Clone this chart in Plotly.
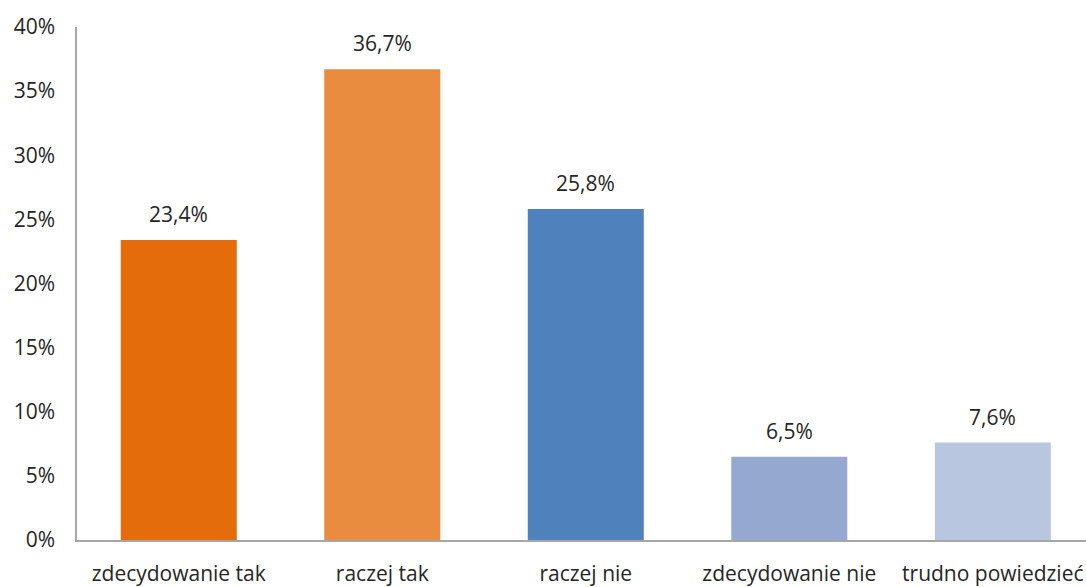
import plotly.graph_objects as go

categories = ["zdecydowanie tak", "raczej tak", "raczej nie", "zdecydowanie nie", "trudno powiedzieć"]
values = [23.4, 36.7, 25.8, 6.5, 7.6]
colors = ["#E46C0A", "#EA8C3F", "#4F81BD", "#95A9D0", "#B9C6DF"]
y_ticks = [0, 5, 10, 15, 20, 25, 30, 35, 40]

font_family = "Open Sans, Liberation Sans, sans-serif"
text_color = "#262626"
fs = 21

fig = go.Figure()
fig.add_trace(go.Bar(
    x=list(range(len(categories))),
    y=values,
    marker=dict(color=colors, line=dict(width=0)),
    width=0.57,
    showlegend=False,
    hoverinfo="skip",
))

for i, v in enumerate(values):
    fig.add_annotation(
        x=i, y=v, text=f"{v:.1f}%".replace(".", ","),
        showarrow=False, yanchor="bottom", yshift=10,
        font=dict(family=font_family, size=fs, color=text_color),
    )

fig.update_layout(
    width=1086, height=587,
    margin=dict(l=77, r=0, t=27, b=45),
    paper_bgcolor="white", plot_bgcolor="white",
    font=dict(family=font_family, size=fs, color=text_color),
)
fig.update_xaxes(
    tickmode="array", tickvals=list(range(len(categories))), ticktext=categories,
    range=[-0.5, 4.458],
    showline=True, linecolor="#A6A6A6", linewidth=1.5,
    showgrid=False, zeroline=False, ticks="", ticklabelstandoff=14,
    tickfont=dict(size=fs, color=text_color),
)
fig.update_yaxes(
    range=[0, 40], tickvals=y_ticks, ticktext=[f"{t}%" for t in y_ticks],
    showline=True, linecolor="#A6A6A6", linewidth=1.5,
    showgrid=False, zeroline=False, ticks="", ticklabelstandoff=16,
    tickfont=dict(size=fs, color=text_color),
)

fig.write_html("out.html")
